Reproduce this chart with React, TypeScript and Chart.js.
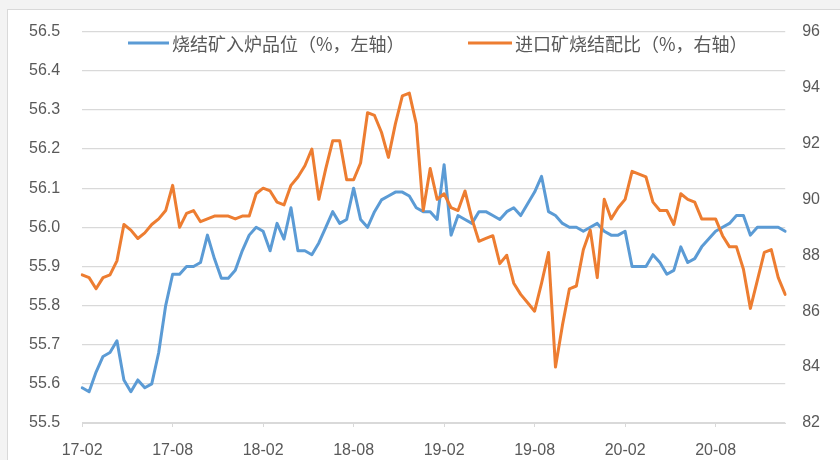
import React, { useEffect, useRef } from "react";
import { Chart, registerables } from "chart.js";

Chart.register(...registerables);

// Half-monthly survey readings, Feb 2017 onwards
const tickLabels = ["17-02", "17-08", "18-02", "18-08", "19-02", "19-08", "20-02", "20-08"];
const periodsPerTick = 13;

const seriesNames = ["烧结矿入炉品位（%，左轴）", "进口矿烧结配比（%，右轴）"];

// 烧结矿入炉品位 (%), left axis
const sinterGrade = [
  55.59, 55.58, 55.63, 55.67, 55.68, 55.71, 55.61, 55.58, 55.61, 55.59,
  55.60, 55.68, 55.80, 55.88, 55.88, 55.90, 55.90, 55.91, 55.98, 55.92,
  55.87, 55.87, 55.89, 55.94, 55.98, 56.00, 55.99, 55.94, 56.01, 55.97,
  56.05, 55.94, 55.94, 55.93, 55.96, 56.00, 56.04, 56.01, 56.02, 56.10,
  56.02, 56.00, 56.04, 56.07, 56.08, 56.09, 56.09, 56.08, 56.05, 56.04,
  56.04, 56.02, 56.16, 55.98, 56.03, 56.02, 56.01, 56.04, 56.04, 56.03,
  56.02, 56.04, 56.05, 56.03, 56.06, 56.09, 56.13, 56.04, 56.03, 56.01,
  56.00, 56.00, 55.99, 56.00, 56.01, 55.99, 55.98, 55.98, 55.99, 55.90,
  55.90, 55.90, 55.93, 55.91, 55.88, 55.89, 55.95, 55.91, 55.92, 55.95,
  55.97, 55.99, 56.00, 56.01, 56.03, 56.03, 55.98, 56.00, 56.00, 56.00,
  56.00, 55.99,
];

// 进口矿烧结配比 (%), right axis
const importedOreRatio = [
  87.3, 87.2, 86.8, 87.2, 87.3, 87.8, 89.1, 88.9, 88.6, 88.8,
  89.1, 89.3, 89.6, 90.5, 89.0, 89.5, 89.6, 89.2, 89.3, 89.4,
  89.4, 89.4, 89.3, 89.4, 89.4, 90.2, 90.4, 90.3, 89.9, 89.8,
  90.5, 90.8, 91.2, 91.8, 90.0, 91.1, 92.1, 92.1, 90.7, 90.7,
  91.3, 93.1, 93.0, 92.4, 91.5, 92.7, 93.7, 93.8, 92.7, 89.6,
  91.1, 90.0, 90.2, 89.7, 89.6, 90.3, 89.3, 88.5, 88.6, 88.7,
  87.7, 88.0, 87.0, 86.6, 86.3, 86.0, 87.0, 88.1, 84.0, 85.5,
  86.8, 86.9, 88.2, 88.9, 87.2, 90.0, 89.3, 89.7, 90.0, 91.0,
  90.9, 90.8, 89.9, 89.6, 89.6, 89.1, 90.2, 90.0, 89.9, 89.3,
  89.3, 89.3, 88.7, 88.3, 88.3, 87.5, 86.1, 87.1, 88.1, 88.2,
  87.2, 86.6,
];

const BLUE = "#5B9BD5";
const ORANGE = "#ED7D31";
const TEXT = "#595959";
const GRID = "#d9d9d9";
const FONT = "'Liberation Sans', Arial, sans-serif";
const CJK_FONT = "'Noto Sans CJK SC', 'Liberation Sans', sans-serif";

// Legend drawn inside the plot, above the top grid band
const insideLegend = {
  id: "insideLegend",
  afterDraw(chart: any, _args: any, opts: any) {
    const ctx = chart.ctx as CanvasRenderingContext2D;
    ctx.save();
    ctx.font = `${opts.fontSize}px ${CJK_FONT}`;
    ctx.textBaseline = "middle";
    ctx.textAlign = "left";
    opts.items.forEach((item: any, i: number) => {
      const ds = chart.data.datasets[i];
      ctx.strokeStyle = ds.borderColor;
      ctx.lineWidth = 3;
      ctx.lineCap = "butt";
      ctx.beginPath();
      ctx.moveTo(item.x, opts.y);
      ctx.lineTo(item.x + item.len, opts.y);
      ctx.stroke();
      ctx.fillStyle = TEXT;
      ctx.fillText(ds.label, item.x + item.len + 3, opts.y + 1);
    });
    ctx.restore();
  },
};

export default function App() {
  const canvasRef = useRef<HTMLCanvasElement | null>(null);

  useEffect(() => {
    const canvas = canvasRef.current;
    if (!canvas) return;
    const categories = sinterGrade.map((_, i) => String(i));
    const chart = new Chart(canvas, {
      type: "line",
      data: {
        labels: categories,
        datasets: [
          {
            label: seriesNames[0],
            data: sinterGrade,
            yAxisID: "y",
            borderColor: BLUE,
            backgroundColor: BLUE,
            borderWidth: 3,
            pointRadius: 0,
            tension: 0,
            borderJoinStyle: "round",
            borderCapStyle: "round",
            order: 1,
          },
          {
            label: seriesNames[1],
            data: importedOreRatio,
            yAxisID: "y2",
            borderColor: ORANGE,
            backgroundColor: ORANGE,
            borderWidth: 3,
            pointRadius: 0,
            tension: 0,
            borderJoinStyle: "round",
            borderCapStyle: "round",
            order: 0,
          },
        ],
      },
      options: {
        responsive: false,
        animation: false,
        devicePixelRatio: 1,
        layout: { padding: { left: 7, right: 3, top: 27, bottom: 0 } },
        plugins: {
          legend: { display: false },
          tooltip: { enabled: false },
          insideLegend: {
            y: 43,
            fontSize: 18,
            items: [
              { x: 128, len: 41 },
              { x: 468, len: 44 },
            ],
          },
        } as any,
        scales: {
          x: {
            type: "category",
            offset: false,
            afterFit: (scale: any) => {
              scale.height = 37;
            },
            grid: {
              display: true,
              drawOnChartArea: false,
              drawTicks: true,
              tickLength: 4,
              color: GRID,
            },
            border: { display: true, color: GRID },
            ticks: {
              autoSkip: false,
              maxRotation: 0,
              minRotation: 0,
              padding: 14,
              color: TEXT,
              font: { family: FONT, size: 16 },
              callback: (_v: any, i: number) =>
                i % periodsPerTick === 0 ? tickLabels[i / periodsPerTick] : null,
            },
          },
          y: {
            position: "left",
            min: 55.5,
            max: 56.5,
            grid: { color: GRID, drawTicks: false, lineWidth: 1.2 },
            border: { display: false },
            ticks: {
              stepSize: 0.1,
              padding: 22,
              color: TEXT,
              font: { family: FONT, size: 16 },
              callback: (v: any) => Number(v).toFixed(1),
            },
          },
          y2: {
            position: "right",
            min: 82,
            max: 96,
            grid: { drawOnChartArea: false, drawTicks: false },
            border: { display: false },
            ticks: {
              stepSize: 2,
              padding: 17,
              color: TEXT,
              font: { family: FONT, size: 16 },
            },
          },
        },
      },
      plugins: [insideLegend],
    });
    return () => chart.destroy();
  }, []);

  return (
    <div
      style={{
        position: "absolute",
        left: 0,
        top: 0,
        width: 840,
        height: 460,
        background: "#f3f3f3",
        overflow: "hidden",
      }}
    >
      <div
        style={{
          position: "absolute",
          left: 7,
          top: 9,
          width: 840,
          height: 460,
          background: "#ffffff",
          border: "1px solid #d9d9d9",
        }}
      />
      <canvas
        ref={canvasRef}
        width={840}
        height={460}
        style={{ position: "absolute", left: 0, top: 0, width: 840, height: 460 }}
      />
    </div>
  );
}
